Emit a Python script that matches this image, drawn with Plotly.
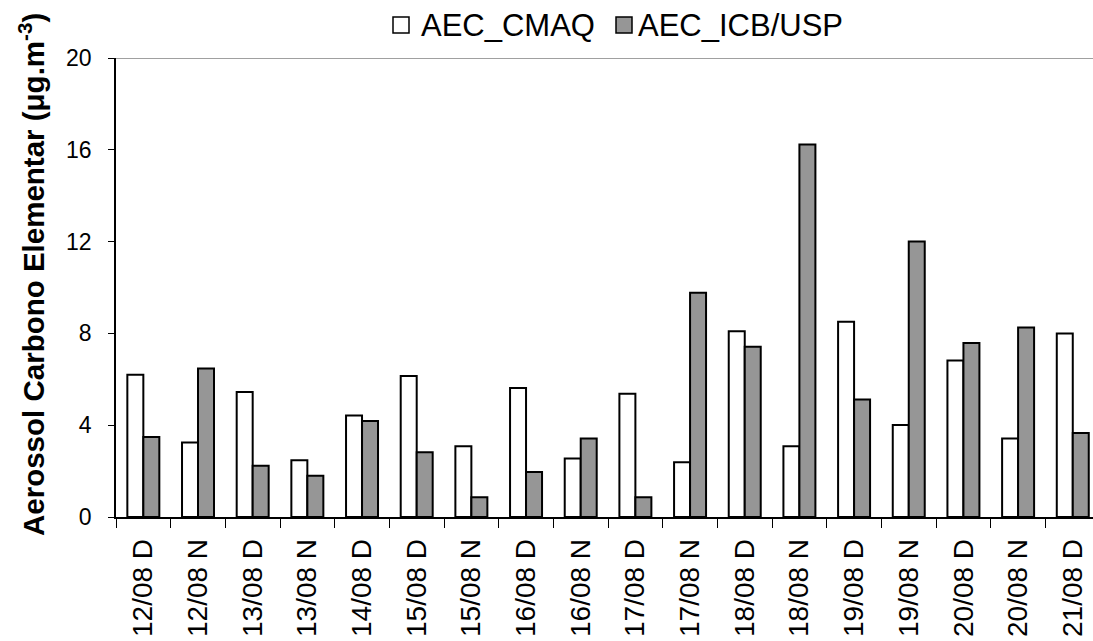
import plotly.graph_objects as go

# Sampling periods (D = day, N = night)
categories = ["12/08 D", "12/08 N", "13/08 D", "13/08 N", "14/08 D", "15/08 D",
              "15/08 N", "16/08 D", "16/08 N", "17/08 D", "17/08 N", "18/08 D",
              "18/08 N", "19/08 D", "19/08 N", "20/08 D", "20/08 N", "21/08 D"]

# Elemental carbon aerosol (µg.m-3)
series_names = ["AEC_CMAQ", "AEC_ICB/USP"]
aec_cmaq = [6.2, 3.25, 5.45, 2.47, 4.42, 6.14, 3.08, 5.62, 2.55,
            5.37, 2.39, 8.09, 3.08, 8.51, 4.01, 6.82, 3.42, 8.0]
aec_icb_usp = [3.49, 6.47, 2.23, 1.8, 4.18, 2.82, 0.86, 1.96, 3.42,
               0.86, 9.77, 7.42, 16.23, 5.12, 12.0, 7.58, 8.26, 3.66]

y_ticks = [0, 4, 8, 12, 16, 20]

FONT = "Liberation Sans, Arial, sans-serif"
FILLS = ["white", "#969696"]

# Figure geometry (pixels) used to place the legend and axis title
W, H = 1093, 641
ML, MR, MT, MB = 116, 0, 58, 124
PW, PH = W - ML - MR, H - MT - MB


def px_x(px):
    return (px - ML) / PW


def px_y(py):
    return (H - MB - py) / PH


fig = go.Figure()
for name, vals, fill in zip(series_names, [aec_cmaq, aec_icb_usp], FILLS):
    fig.add_trace(go.Bar(x=categories, y=vals, name=name,
                         marker=dict(color=fill, line=dict(color="black", width=2))))

fig.update_layout(
    width=W, height=H,
    margin=dict(l=ML, r=MR, t=MT, b=MB),
    paper_bgcolor="white", plot_bgcolor="white",
    barmode="group", bargap=0.415, bargroupgap=0,
    font=dict(family=FONT, size=23, color="black"),
    showlegend=False,
    xaxis=dict(
        type="category", range=[-0.5, 17.37],
        tickangle=-90, tickson="boundaries",
        ticks="outside", ticklen=9, tickcolor="black",
        ticklabelstandoff=9,
        showline=True, linecolor="black", linewidth=1.5,
        showgrid=False, tickfont=dict(size=28), automargin=False,
    ),
    yaxis=dict(
        range=[0, 20], tickvals=y_ticks,
        ticks="outside", ticklen=6, tickcolor="black",
        ticklabelstandoff=12,
        showline=True, linecolor="black", linewidth=1.5,
        showgrid=False, zeroline=False, tickfont=dict(size=23), automargin=False,
    ),
)

# Gray upper border of the plot area
fig.add_shape(type="line", xref="paper", yref="y", x0=0, x1=1, y0=20, y1=20,
              line=dict(color="#808080", width=1.5))

# Y axis title
fig.add_annotation(
    text="<b>Aerossol Carbono Elementar (μg.m<sup>-3</sup>)</b>",
    xref="paper", yref="paper", x=px_x(31), y=px_y(275),
    xanchor="center", yanchor="middle", textangle=-90, showarrow=False,
    font=dict(size=29.5, family=FONT, color="black"),
)

# Legend: boxed swatches followed by series names
legend_items = [(393, 421), (616, 638)]
for (sx, tx), name, fill in zip(legend_items, series_names, FILLS):
    fig.add_shape(type="rect", xref="paper", yref="paper",
                  x0=px_x(sx), x1=px_x(sx + 16), y0=px_y(33), y1=px_y(17),
                  fillcolor=fill, line=dict(color="black", width=1.5))
    fig.add_annotation(text=name, xref="paper", yref="paper",
                       x=px_x(tx - 2), y=px_y(25), xanchor="left", yanchor="middle",
                       showarrow=False, font=dict(size=31, family=FONT, color="black"))

fig.write_html("out.html")
